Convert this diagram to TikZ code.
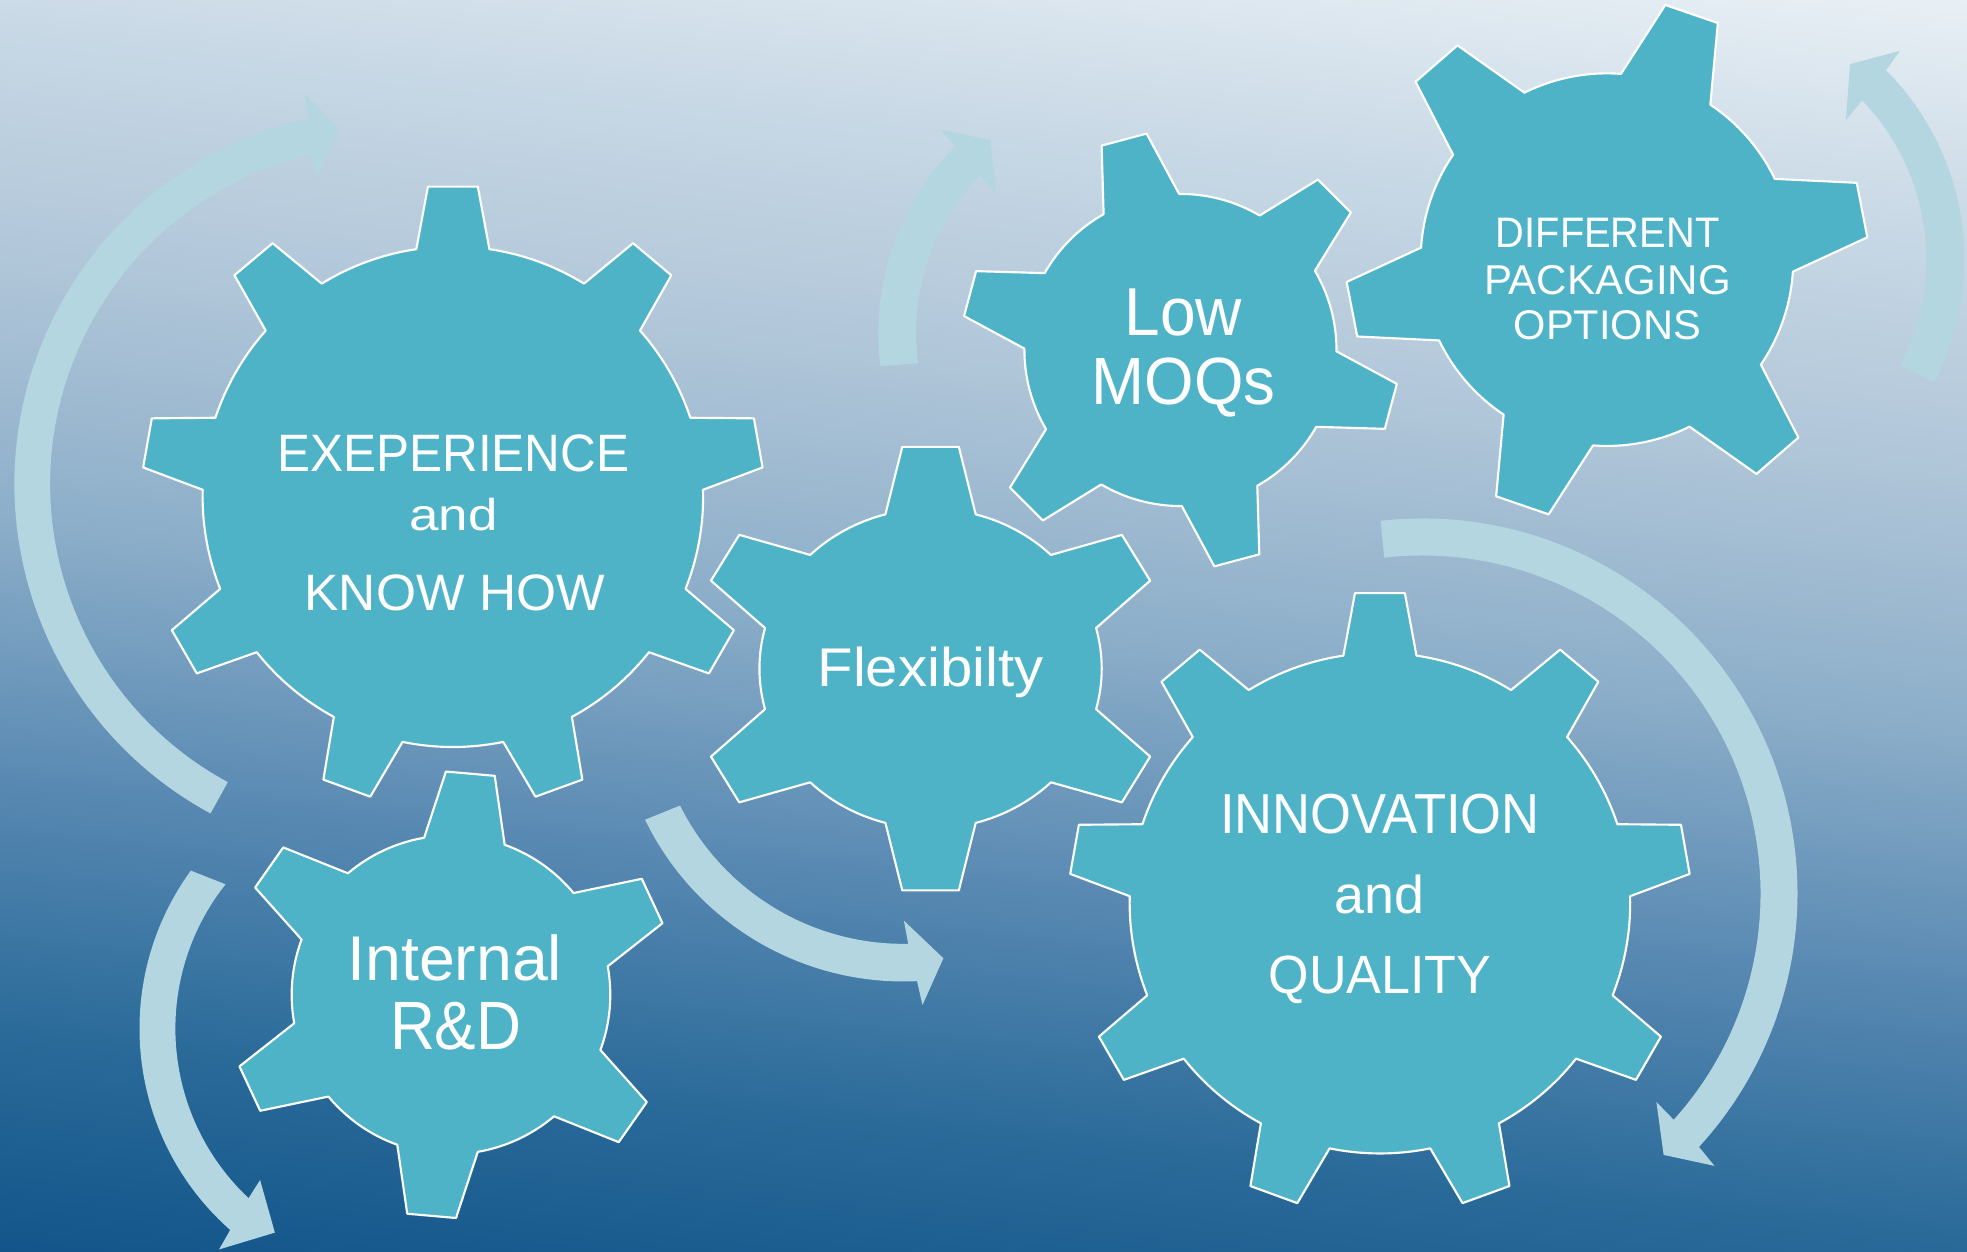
\documentclass[tikz,border=0pt]{standalone}
\usepackage{fontspec}
\setmainfont{Liberation Sans}
\usepackage{graphicx}
\definecolor{gearfill}{HTML}{4FB3C8}
\definecolor{arrowfill}{HTML}{B3D6E0}
\definecolor{bgA}{HTML}{13558A}
\definecolor{bgB}{HTML}{2B6B9A}
\definecolor{bgC}{HTML}{5A8AB3}
\definecolor{bgD}{HTML}{8CAEC9}
\definecolor{bgE}{HTML}{AFC5D8}
\definecolor{bgF}{HTML}{C9D9E6}
\definecolor{bgG}{HTML}{E9F0F5}
\tikzset{
  gearshape/.style={fill=gearfill, draw=white, line width=1.7pt, line join=round},
  cycarrow/.style={fill=arrowfill, draw=none},
  gtext/.style={text=white, inner sep=0pt, anchor=base, font=\fontsize{40}{48}\selectfont},
}
\newcommand{\drawgear}[6]{%
  \pgfmathsetmacro{\gstep}{360/#1}%
  \draw[gearshape] ({#2+#5}:#3)
    \foreach \k in {1,...,#1}{
      -- ({#2-(\k-1)*\gstep+#6}:#4)
      -- ({#2-(\k-1)*\gstep-#6}:#4)
      -- ({#2-(\k-1)*\gstep-#5}:#3)
      arc[start angle={#2-(\k-1)*\gstep-#5}, end angle={#2-\k*\gstep+#5}, radius=#3]
    } -- cycle;
}
\begin{document}
\begin{tikzpicture}[x=1pt,y=1pt]
\useasboundingbox (0,0) rectangle (1568,998);
% background
\begin{scope}
\clip (0,0) rectangle (1568,998);
\begin{scope}[transform canvas={rotate around={-6:(784,499)}}]
\fill[bgA] (-500,-500) rectangle (2068,-79);
\shade[bottom color=bgA, top color=bgB] (-500,-80) rectangle (2068,101);
\shade[bottom color=bgB, top color=bgC] (-500,100) rectangle (2068,301);
\shade[bottom color=bgC, top color=bgD] (-500,300) rectangle (2068,501);
\shade[bottom color=bgD, top color=bgE] (-500,500) rectangle (2068,701);
\shade[bottom color=bgE, top color=bgF] (-500,700) rectangle (2068,901);
\shade[bottom color=bgF, top color=bgG] (-500,900) rectangle (2068,1081);
\fill[bgG] (-500,1080) rectangle (2068,1500);
\end{scope}
\end{scope}
% circular arrows
\begin{scope}[shift={(310,612)}]
\fill[cycarrow] (241.55:298.5) arc[start angle=241.55, end angle=102.4, radius=298.5]
  -- (102.2:318.1) -- (98.0:285.8) -- (103.4:250.8) -- (103.1:270)
  arc[start angle=103.1, end angle=241.6, radius=270] -- cycle;
\end{scope}
\begin{scope}[shift={(325.5,178)}]
\fill[cycarrow] (144.0:214.3) arc[start angle=144.0, end angle=228.5, radius=214.3]
  -- (229.4:231.8) -- (236.8:194.3) -- (225.6:168.9) -- (226.7:185.7)
  arc[start angle=226.7, end angle=141.7, radius=185.7] -- cycle;
\end{scope}
\begin{scope}[shift={(911.2,732.6)}]
\fill[cycarrow] (187.2:211) arc[start angle=187.2, end angle=135.0, radius=211]
  -- (135.0:228.9) -- (128.4:196.3) -- (136.4:161.3) -- (136.1:181)
  arc[start angle=136.1, end angle=187.7, radius=181] -- cycle;
\end{scope}
\begin{scope}[shift={(1352.8,791.3)}]
\fill[cycarrow] (-27.5:213) arc[start angle=-27.5, end angle=45.0, radius=213]
  -- (45.8:231.7) -- (51.9:197.7) -- (43.1:162.5) -- (43.9:182.7)
  arc[start angle=43.9, end angle=-27.45, radius=182.7] -- cycle;
\end{scope}
\begin{scope}[shift={(1133.9,285.7)}]
\fill[cycarrow] (96.4:299) arc[start angle=96.4, end angle=-42.5, radius=299]
  -- (-43.0:318.3) -- (-47.3:283.5) -- (-41.7:249.8) -- (-42.0:269.5)
  arc[start angle=-42.0, end angle=96.5, radius=269.5] -- cycle;
\end{scope}
\begin{scope}[shift={(720.2,444.6)}]
\fill[cycarrow] (205.9:229) arc[start angle=205.9, end angle=272.7, radius=229]
  -- (273.5:248.2) -- (278.6:212.9) -- (270.1:180.5) -- (271.1:199)
  arc[start angle=271.1, end angle=206.5, radius=199] -- cycle;
\end{scope}
% gears
\begin{scope}[shift={(361,602)}]\drawgear{9}{90}{199.5}{248}{8.4}{4.6}\end{scope}
\begin{scope}[shift={(1100,278)}]\drawgear{9}{90}{199.5}{248}{8.4}{4.6}\end{scope}
\begin{scope}[shift={(359.5,205)}]\drawgear{6}{85}{127}{178}{14.7}{6.3}\end{scope}
\begin{scope}[shift={(741.8,465)}, xscale=1.07]\drawgear{6}{90}{127.5}{178}{15.3}{6.8}\end{scope}
\begin{scope}[shift={(941,719)}]\drawgear{6}{105}{124.4}{174.6}{14.5}{6.1}\end{scope}
\begin{scope}[shift={(1281,791)}]\drawgear{6}{71}{148.5}{208.3}{14.7}{6.1}\end{scope}
% texts
\node[gtext] (g1a) at (361.4,622.0) {\resizebox{280.6pt}{29.3pt}{EXEPERIENCE}};
\node[gtext] (g1b) at (361.4,575.5) {\resizebox{70.3pt}{25.8pt}{and}};
\node[gtext] (g1c) at (362.5,511.7) {\resizebox{239.3pt}{28.5pt}{KNOW HOW}};
\node[gtext] (g6a) at (1100,333.7) {\resizebox{254.6pt}{31.4pt}{INNOVATION}};
\node[gtext] (g6b) at (1099.8,270) {\resizebox{71.6pt}{30.8pt}{and}};
\node[gtext] (g6c) at (1100,206.2) {\resizebox{177.6pt}{30pt}{QUALITY}};
\node[gtext] (g5a) at (1281.5,800.6) {\resizebox{178.1pt}{23.4pt}{DIFFERENT}};
\node[gtext] (g5b) at (1281.3,763.6) {\resizebox{196.6pt}{23.2pt}{PACKAGING}};
\node[gtext] (g5c) at (1281.3,727.0) {\resizebox{149.2pt}{23.1pt}{OPTIONS}};
\node[gtext] (g4a) at (943.4,730.2) {\resizebox{93.6pt}{37.2pt}{Low}};
\node[gtext] (g4b) at (943.4,675.2) {\resizebox{146.5pt}{37.2pt}{MOQs}};
\node[gtext] (g3a) at (741.8,450.4) {\resizebox{180.2pt}{31.5pt}{Flexibilty}};
\node[gtext] (g2a) at (362.6,216.5) {\resizebox{171.3pt}{36.5pt}{Internal}};
\node[gtext] (g2b) at (363.3,161.3) {\resizebox{104.8pt}{37.7pt}{R\&D}};
\end{tikzpicture}
\end{document}
